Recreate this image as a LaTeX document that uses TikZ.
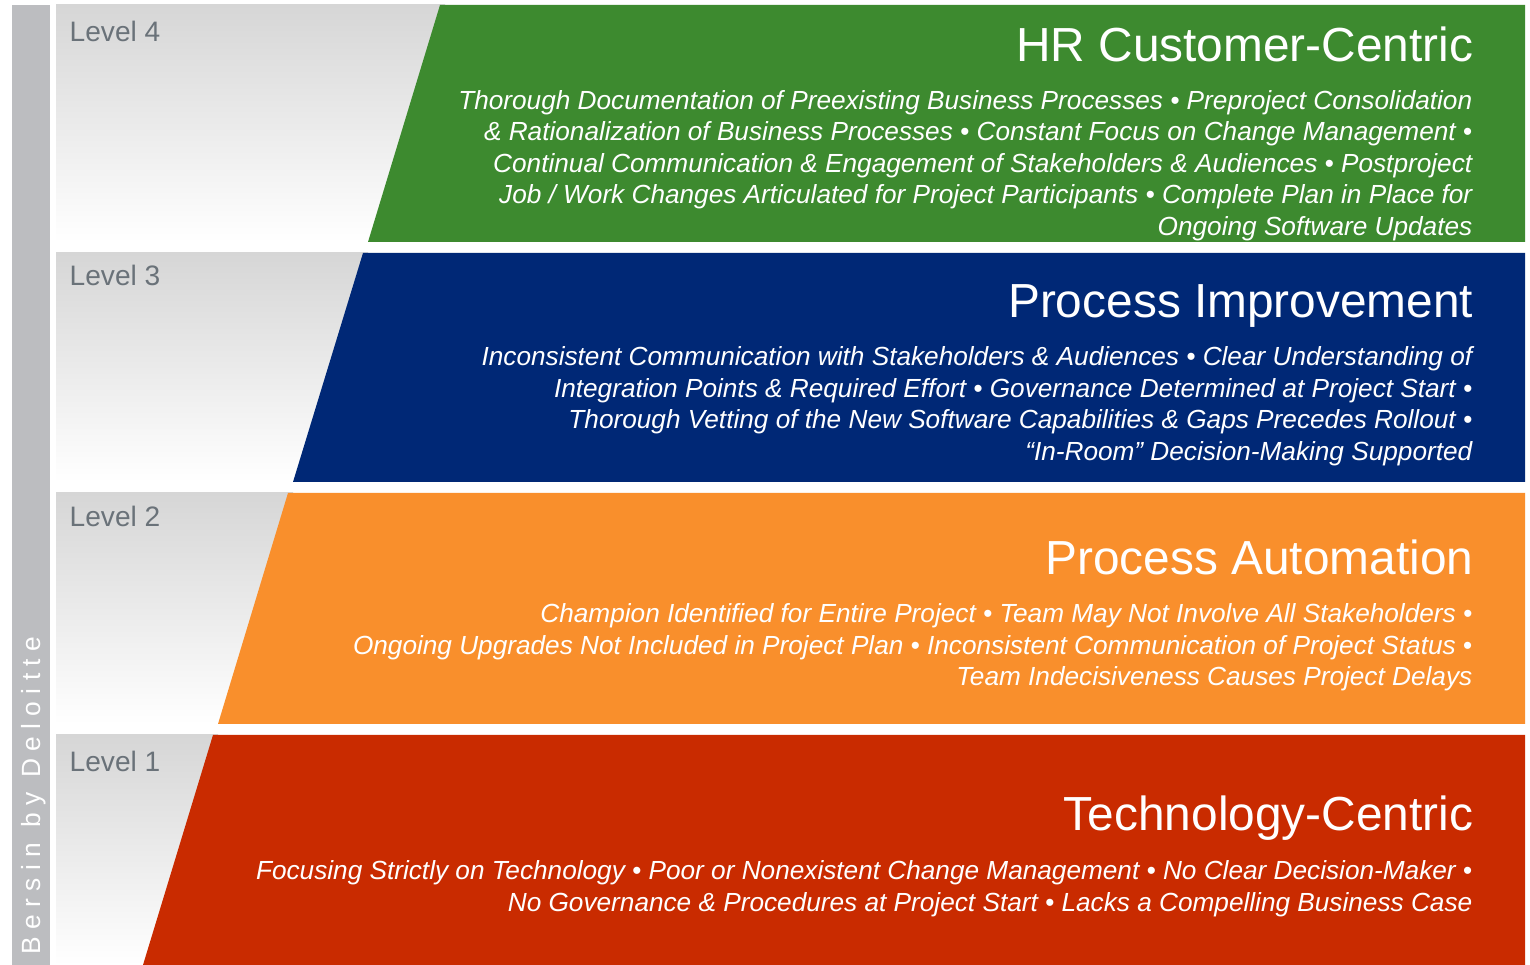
\documentclass[tikz,border=0pt]{standalone}
\usepackage{fontspec}
\setmainfont{Liberation Sans}
\definecolor{bargray}{HTML}{BCBDC0}
\definecolor{rowgray}{HTML}{D6D6D6}
\definecolor{lvgreen}{HTML}{3D8A2F}
\definecolor{lvnavy}{HTML}{002876}
\definecolor{lvorange}{HTML}{F98F2C}
\definecolor{lvred}{HTML}{C92B00}
\definecolor{lvtext}{HTML}{6A7279}
\tikzset{
  title/.style={anchor=base east, inner sep=0pt, text=white, font=\fontsize{13.6pt}{16pt}\selectfont},
  body/.style={anchor=base east, inner sep=0pt, text=white, font=\fontsize{7.45pt}{9pt}\selectfont\itshape},
  lvl/.style={anchor=base west, inner sep=0pt, text=lvtext, font=\fontsize{8pt}{10pt}\selectfont},
  rowshade/.style={top color=rowgray, bottom color=white, shading angle=0}
}
\begin{document}
\begin{tikzpicture}[x=0.01cm,y=-0.01cm]
\useasboundingbox (0,0) rectangle (1530,965);
\fill[white] (0,0) rectangle (1530,965);
\fill[bargray] (12,5) rectangle (50,965);
% gray rows
\shade[rowshade] (56,5) rectangle (445,242);
\shade[rowshade] (56,253) rectangle (368,482);
\shade[rowshade] (56,493) rectangle (293,724);
\shade[rowshade] (56,735) rectangle (218,965);
% coloured bands
\fill[lvgreen] (440,5) -- (1525,5) -- (1525,242) -- (368,242) -- cycle;
\fill[lvnavy] (363,253) -- (1525,253) -- (1525,482) -- (293,482) -- cycle;
\fill[lvorange] (288,493) -- (1525,493) -- (1525,724) -- (218,724) -- cycle;
\fill[lvred] (213,735) -- (1525,735) -- (1525,965) -- (143,965) -- cycle;
% level labels
\node[lvl] (l4) at (69,42) {Level 4};
\node[lvl] (l3) at (69,286) {Level 3};
\node[lvl] (l2) at (69,527) {Level 2};
\node[lvl] (l1) at (69,772) {Level 1};
% vertical credit
\node[rotate=90, anchor=base west, inner sep=0pt, text=white, font=\fontsize{7.5pt}{9pt}\selectfont\addfontfeature{LetterSpace=28}] (credit) at (41,955) {Bersin by Deloitte};
% level 4
\node[title] (t4) at (1474,62) {HR Customer-Centric};
\node[body] (b4a) at (1473,109.5) {Thorough Documentation of Preexisting Business Processes • Preproject Consolidation};
\node[body] (b4b) at (1473,140.5) {\& Rationalization of Business Processes • Constant Focus on Change Management •};
\node[body] (b4c) at (1473,172.5) {Continual Communication \& Engagement of Stakeholders \& Audiences • Postproject};
\node[body] (b4d) at (1473,203.5) {Job / Work Changes Articulated for Project Participants • Complete Plan in Place for};
\node[body] (b4e) at (1473,235.5) {Ongoing Software Updates};
% level 3
\node[title] (t3) at (1474,318) {Process Improvement};
\node[body] (b3a) at (1473,365.5) {Inconsistent Communication with Stakeholders \& Audiences • Clear Understanding of};
\node[body] (b3b) at (1473,397.5) {Integration Points \& Required Effort • Governance Determined at Project Start •};
\node[body] (b3c) at (1473,428.5) {Thorough Vetting of the New Software Capabilities \& Gaps Precedes Rollout •};
\node[body] (b3d) at (1473,460.5) {“In-Room” Decision-Making Supported};
% level 2
\node[title] (t2) at (1474,575) {Process Automation};
\node[body] (b2a) at (1473,622.5) {Champion Identified for Entire Project • Team May Not Involve All Stakeholders •};
\node[body] (b2b) at (1473,654.5) {Ongoing Upgrades Not Included in Project Plan • Inconsistent Communication of Project Status •};
\node[body] (b2c) at (1473,685.5) {Team Indecisiveness Causes Project Delays};
% level 1
\node[title] (t1) at (1474,831) {Technology-Centric};
\node[body] (b1a) at (1473,879.5) {Focusing Strictly on Technology • Poor or Nonexistent Change Management • No Clear Decision-Maker •};
\node[body] (b1b) at (1473,911.5) {No Governance \& Procedures at Project Start • Lacks a Compelling Business Case};
\end{tikzpicture}
\end{document}
